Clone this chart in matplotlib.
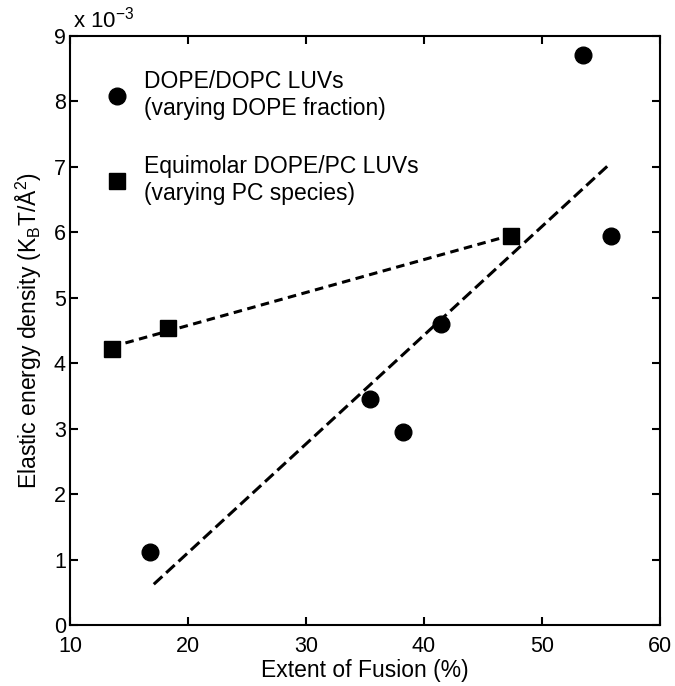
import matplotlib
matplotlib.use("Agg")
import matplotlib.pyplot as plt
from matplotlib.ticker import FuncFormatter, MultipleLocator
import numpy as np

plt.rcParams["font.family"] = ["Liberation Sans", "DejaVu Sans"]
plt.rcParams["mathtext.fontset"] = "custom"
plt.rcParams["mathtext.rm"] = "Liberation Sans"
plt.rcParams["mathtext.it"] = "Liberation Sans"

# DOPE/DOPC LUVs (varying DOPE fraction)
fusion_dope = [16.8, 35.4, 38.25, 41.45, 53.45, 55.85]
energy_dope = [1.12e-3, 3.45e-3, 2.95e-3, 4.60e-3, 8.71e-3, 5.94e-3]
fit_range_dope = [17.1, 55.8]

# Equimolar DOPE/PC LUVs (varying PC species)
fusion_pc = [13.55, 18.3, 47.4]
energy_pc = [4.21e-3, 4.54e-3, 5.95e-3]

label_dope = "DOPE/DOPC LUVs\n(varying DOPE fraction)"
label_pc = "Equimolar DOPE/PC LUVs\n(varying PC species)"

fig = plt.figure(figsize=(6.75, 6.86), dpi=100)
ax = fig.add_axes([70 / 675, 1 - 625 / 686, 590 / 675, 589 / 686])

# least-squares lines
k, b = np.polyfit(fusion_dope, energy_dope, 1)
xs = np.array(fit_range_dope)
ax.plot(xs, k * xs + b, color="black", linestyle="--", linewidth=2.2,
        dashes=(3.8, 1.7))

k2, b2 = np.polyfit(fusion_pc, energy_pc, 1)
xs2 = np.array([min(fusion_pc), max(fusion_pc)])
ax.plot(xs2, k2 * xs2 + b2, color="black", linestyle="--", linewidth=2.2,
        dashes=(2.8, 1.8))

ax.plot(fusion_dope, energy_dope, "o", color="black", markersize=12,
        linestyle="none", label=label_dope)
ax.plot(fusion_pc, energy_pc, "s", color="black", markersize=12,
        linestyle="none", label=label_pc)

ax.set_xlim(10, 60)
ax.set_ylim(0, 9e-3)
ax.xaxis.set_major_locator(MultipleLocator(10))
ax.yaxis.set_major_locator(MultipleLocator(1e-3))
ax.yaxis.set_major_formatter(FuncFormatter(lambda v, p: "%d" % round(v * 1e3)))

for s in ax.spines.values():
    s.set_linewidth(1.5)
ax.tick_params(direction="in", length=6, width=1.5, top=True, right=True,
               labelsize=15.5)
ax.tick_params(axis="x", pad=8)
ax.tick_params(axis="y", pad=3)

ax.set_xlabel("Extent of Fusion (%)", fontsize=16.5, labelpad=1)
ax.set_ylabel(r"Elastic energy density (K$_{\mathrm{B}}$T/Å$^2$)", fontsize=16.5, labelpad=7)
ax.text(0.005, 1.006, r"x 10$^{-3}$", transform=ax.transAxes, fontsize=16,
        ha="left", va="bottom")

ax.legend(loc="upper left", bbox_to_anchor=(0.061, 0.942), frameon=False,
          fontsize=16.5, handlelength=1.0, handletextpad=0.67, labelspacing=1.55,
          borderaxespad=0, borderpad=0, numpoints=1)

fig.savefig("out.png", dpi=100)
